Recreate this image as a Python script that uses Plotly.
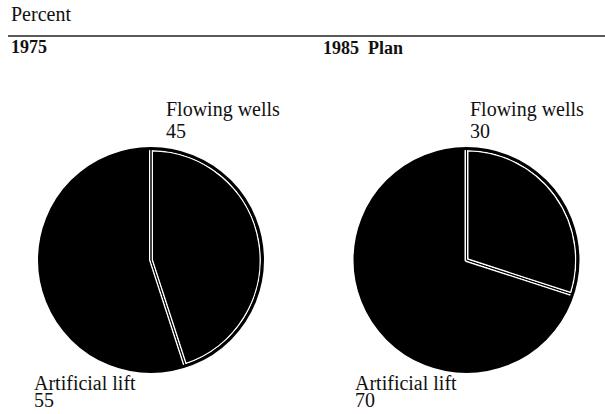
import plotly.graph_objects as go

# dados
categorias = ["Flowing wells", "Artificial lift"]
anos = ["1975", "1985\u00a0 Plan"]
valores_1975 = [45, 55]
valores_1985 = [30, 70]

W, H = 605, 414
FONTE = "Liberation Serif, Times New Roman, serif"


def px(x):
    return x / W


def py(y):
    return 1 - y / H


def dominio(cx, cy, r):
    return dict(x=[px(cx - r), px(cx + r)], y=[py(cy + r), py(cy - r)])


fig = go.Figure()

# (centro x, centro y, raio) em pixels
pizzas = [((151, 260, 110.5), valores_1975), ((466.5, 260, 110.5), valores_1985)]

for (cx, cy, r), valores in pizzas:
    # artificial lift primeiro, flowing wells desenhado por cima (começa às 12h, sentido horário)
    labels = categorias[::-1]
    vals = valores[::-1]
    rot = 360 * valores[0] / sum(valores)
    fig.add_trace(go.Pie(
        labels=labels, values=vals, sort=False, direction="clockwise",
        rotation=rot, domain=dominio(cx, cy, r), textinfo="none",
        hoverinfo="label+value", showlegend=False,
        marker=dict(colors=["black", "black"],
                    line=dict(color=["black", "white"], width=[0, 4])),
    ))
    # linha fina preta no meio do divisor (linha dupla)
    fig.add_trace(go.Pie(
        labels=labels, values=vals, sort=False, direction="clockwise",
        rotation=rot, domain=dominio(cx, cy, r), textinfo="none",
        hoverinfo="skip", showlegend=False,
        marker=dict(colors=["rgba(0,0,0,0)", "rgba(0,0,0,0)"],
                    line=dict(color="black", width=1)),
    ))
    # contorno externo preto
    fig.add_trace(go.Pie(
        labels=["total"], values=[sum(valores)], domain=dominio(cx, cy, r + 1),
        textinfo="none", hoverinfo="skip", showlegend=False,
        marker=dict(colors=["rgba(0,0,0,0)"], line=dict(color="black", width=3)),
    ))


def texto(t, x, base, size=20, bold=False):
    if bold:
        t = "<b>" + t + "</b>"
    fig.add_annotation(text=t, x=px(x), y=py(base - size - 1), xref="paper", yref="paper",
                       xanchor="left", yanchor="top", showarrow=False,
                       font=dict(family=FONTE, size=size, color="#111"))


texto("Percent", 9, 22)
texto(anos[0], 9, 54, size=18, bold=True)
texto(anos[1], 321, 55, size=18, bold=True)

texto(categorias[0], 164, 117)
texto(str(valores_1975[0]), 164, 139)
texto(categorias[0], 468, 117)
texto(str(valores_1985[0]), 468, 139)

texto(categorias[1], 32, 391)
texto(str(valores_1975[1]), 32, 408)
texto(categorias[1], 353, 391)
texto(str(valores_1985[1]), 353, 408)

fig.add_shape(type="line", xref="paper", yref="paper", x0=px(8), x1=1, y0=py(36), y1=py(36),
              line=dict(color="#222", width=1.5))

fig.update_layout(
    width=W, height=H,
    margin=dict(l=0, r=0, t=0, b=0),
    paper_bgcolor="white", plot_bgcolor="white",
)

# tira a margem padrão do body para o gráfico ocupar a janela toda
fig.write_html("out.html", config={"displayModeBar": False},
               post_script="document.body.style.margin='0';")
